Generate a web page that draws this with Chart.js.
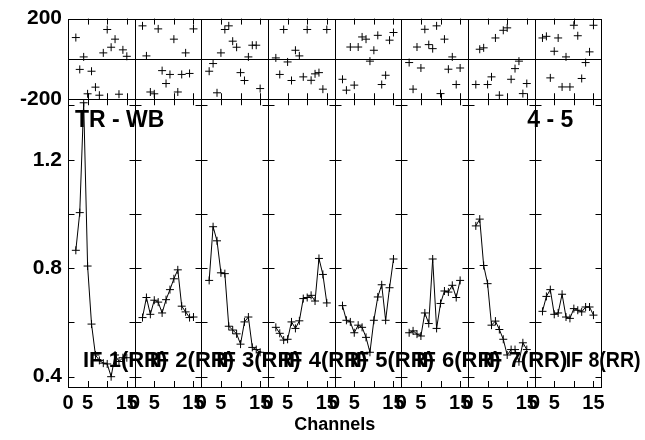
<!DOCTYPE html>
<html>
<head>
<meta charset="utf-8">
<script src="https://cdn.jsdelivr.net/npm/chart.js@4.4.1/dist/chart.umd.min.js"></script>
<style>
  html, body { margin: 0; padding: 0; background: #fff; }
</style>
</head>
<body>
<canvas id="rrChart" width="645" height="440"></canvas>
<script>
// channels plotted in every IF panel
const channels = [2, 3, 4, 5, 6, 7, 8, 9, 10, 11, 12, 13, 14, 15];
const ifNames = ['IF 1(RR)', 'IF 2(RR)', 'IF 3(RR)', 'IF 4(RR)', 'IF 5(RR)', 'IF 6(RR)', 'IF 7(RR)', 'IF 8(RR)'];
const leftTag = 'TR - WB';
const rightTag = '4 - 5';

// phase, degrees (upper strip)
const phaseIF1 = [106, -52, 10, -173, -61, -140, -180, 30, 146, 58, 98, -175, 45, 13];
const phaseIF2 = [164, 15, -164, -173, 149, -58, -122, -77, 98, -164, -77, 30, -72, 149];
const phaseIF3 = [-61, -23, -168, 30, 146, 164, 88, 58, -68, -107, 10, 68, 68, -147];
const phaseIF4 = [5, -77, 146, -15, -107, 43, 15, -89, 146, -106, -74, -68, -150, 146];
const phaseIF5 = [-101, -155, 59, -130, 59, 109, 98, -11, 43, 117, -127, -81, 93, 131];
const phaseIF6 = [-18, -150, 59, -45, 147, 71, 51, 164, -172, 98, -51, 10, -127, -45];
const phaseIF7 = [-127, 48, 55, -127, -89, 104, -180, 142, 154, -101, -48, -11, -172, -122];
const phaseIF8 = [104, 112, -94, 38, 104, -139, 10, -139, 167, 115, -97, -18, 35, 167];

// amplitude (lower strip)
const ampIF1 = [0.866, 1.005, 1.41, 0.808, 0.594, 0.48, 0.46, 0.45, 0.447, 0.40, 0.48, 0.456, 0.47, 0.47];
const ampIF2 = [0.618, 0.692, 0.630, 0.682, 0.675, 0.635, 0.684, 0.721, 0.761, 0.794, 0.660, 0.639, 0.618, 0.620];
const ampIF3 = [0.755, 0.953, 0.901, 0.783, 0.780, 0.586, 0.572, 0.558, 0.520, 0.602, 0.620, 0.508, 0.500, 0.490];
const ampIF4 = [0.582, 0.560, 0.535, 0.538, 0.602, 0.578, 0.606, 0.688, 0.692, 0.700, 0.679, 0.836, 0.777, 0.672];
const ampIF5 = [0.662, 0.608, 0.602, 0.562, 0.590, 0.582, 0.545, 0.490, 0.608, 0.694, 0.739, 0.608, 0.728, 0.834];
const ampIF6 = [0.562, 0.569, 0.557, 0.550, 0.635, 0.596, 0.834, 0.578, 0.670, 0.716, 0.712, 0.737, 0.692, 0.755];
const ampIF7 = [0.956, 0.981, 0.810, 0.743, 0.590, 0.605, 0.574, 0.538, 0.480, 0.500, 0.500, 0.455, 0.525, 0.500];
const ampIF8 = [0.641, 0.696, 0.721, 0.630, 0.635, 0.704, 0.620, 0.615, 0.651, 0.645, 0.639, 0.657, 0.657, 0.627];

// ticks
const xTicks = [0, 5, 10, 15];
const xTickLabels = [0, 5, 15];
const ampTicks = [0.4, 0.6, 0.8, 1.0, 1.2, 1.4];
const ampTickLabels = [0.4, 0.8, 1.2];
const phaseTicks = [-200, 200];

const phases = [phaseIF1, phaseIF2, phaseIF3, phaseIF4, phaseIF5, phaseIF6, phaseIF7, phaseIF8];
const amps = [ampIF1, ampIF2, ampIF3, ampIF4, ampIF5, ampIF6, ampIF7, ampIF8];

const fontFamily = "'Liberation Sans', Arial, Helvetica, sans-serif";
Chart.defaults.font.family = fontFamily;
Chart.defaults.font.weight = 'bold';
Chart.defaults.color = '#000';

const T = 6; // tick mark length
const snap = v => Math.round(v) + 0.5;

const framePlugin = {
  id: 'panelFrame',
  afterDatasetsDraw(chart) {
    const { ctx, chartArea: a, scales: s } = chart;
    const top = s.yTop, bot = s.yBot;
    const line = (x1, y1, x2, y2) => {
      ctx.beginPath(); ctx.moveTo(x1, y1); ctx.lineTo(x2, y2); ctx.stroke();
    };
    ctx.save();
    ctx.strokeStyle = '#000';
    ctx.lineWidth = 1;
    const L = snap(a.left), R = snap(a.right), Tp = snap(a.top), B = snap(a.bottom);
    ctx.strokeRect(L, Tp, R - L, B - Tp);
    line(L, snap(bot.top), R, snap(bot.top));
    line(L, snap(top.getPixelForValue(0)), R, snap(top.getPixelForValue(0)));

    for (let i = 0; i < 8; i++) {
      const xs = s['x' + i];
      const xl = snap(xs.left), xr = snap(xs.right);
      if (i > 0) line(xl, Tp, xl, B);
      xTicks.forEach(v => {
        if (v === 0) return;
        const px = snap(xs.getPixelForValue(v));
        line(px, top.top, px, top.top + T);
        line(px, top.bottom, px, top.bottom - T);
        line(px, bot.top, px, bot.top + T);
        line(px, bot.bottom, px, bot.bottom - T);
      });
      ampTicks.forEach(v => {
        const py = snap(bot.getPixelForValue(v));
        line(xl, py, xl + T, py);
        line(xr, py, xr - T, py);
      });
    }

    // panel captions
    ctx.fillStyle = '#000';
    ctx.textBaseline = 'alphabetic';
    ctx.font = 'bold 23px ' + fontFamily;
    ctx.textAlign = 'left';
    ctx.fillText(leftTag, a.left + 7, bot.top + 28);
    ctx.textAlign = 'right';
    ctx.fillText(rightTag, a.right - 28, bot.top + 28);

    ctx.font = 'bold 22px ' + fontFamily;
    ctx.textAlign = 'left';
    ifNames.forEach((name, i) => {
      const xs = s['x' + i];
      if (i < 7) ctx.fillText(name, xs.left + 15, bot.bottom - 20);
      else ctx.fillText(name, xs.left + 31, bot.bottom - 20, 75);
    });
    ctx.restore();
  }
};

const scales = {};
for (let i = 0; i < 8; i++) {
  scales['x' + i] = {
    type: 'linear',
    position: 'bottom',
    stack: 'chan',
    min: 0,
    max: 17,
    grid: { display: false, drawTicks: false },
    border: { display: false },
    afterBuildTicks: sc => { sc.ticks = xTicks.map(v => ({ value: v })); },
    afterFit: sc => { sc.height = 27; },
    ticks: {
      autoSkip: false,
      maxRotation: 0,
      padding: 4,
      font: { size: 20, weight: 'bold' },
      callback: v => (xTickLabels.includes(v) ? String(v) : '')
    }
  };
}
scales.yBot = {
  type: 'linear',
  position: 'left',
  stack: 'rows',
  stackWeight: 289,
  min: 0.362,
  max: 1.423,
  grid: { display: false, drawTicks: false },
  border: { display: false },
  afterBuildTicks: sc => { sc.ticks = ampTicks.map(v => ({ value: v })); },
  afterFit: sc => { sc.width = 68; },
  ticks: {
    padding: 6,
    font: { size: 21, weight: 'bold' },
    callback: v => (ampTickLabels.some(t => Math.abs(t - v) < 1e-6) ? v.toFixed(1) : '')
  }
};
scales.yTop = {
  type: 'linear',
  position: 'left',
  stack: 'rows',
  stackWeight: 81,
  min: -200,
  max: 200,
  grid: { display: false, drawTicks: false },
  border: { display: false },
  afterBuildTicks: sc => { sc.ticks = phaseTicks.map(v => ({ value: v })); },
  afterFit: sc => { sc.width = 68; },
  ticks: {
    padding: 6,
    font: { size: 21, weight: 'bold' },
    callback: v => String(v)
  }
};

const datasets = [];
phases.forEach((ph, i) => {
  datasets.push({
    data: channels.map((c, j) => ({ x: c, y: ph[j] })),
    xAxisID: 'x' + i,
    yAxisID: 'yTop',
    showLine: false,
    pointStyle: 'cross',
    pointRadius: 4,
    borderColor: '#000',
    borderWidth: 1
  });
});
amps.forEach((am, i) => {
  datasets.push({
    data: channels.map((c, j) => ({ x: c, y: am[j] })),
    xAxisID: 'x' + i,
    yAxisID: 'yBot',
    showLine: true,
    tension: 0,
    pointStyle: 'cross',
    pointRadius: 4,
    borderColor: '#000',
    borderWidth: 1
  });
});

new Chart(document.getElementById('rrChart'), {
  type: 'scatter',
  data: { datasets },
  options: {
    responsive: false,
    animation: false,
    devicePixelRatio: 1,
    layout: { padding: { top: 17, right: 43.7, bottom: 4.4, left: 0 } },
    scales,
    plugins: {
      legend: { display: false },
      tooltip: { enabled: false },
      title: {
        display: true,
        text: 'Channels',
        position: 'bottom',
        fullSize: false,
        padding: 0,
        color: '#000',
        font: { size: 18, weight: 'bold' }
      }
    }
  },
  plugins: [framePlugin]
});
</script>
</body>
</html>
